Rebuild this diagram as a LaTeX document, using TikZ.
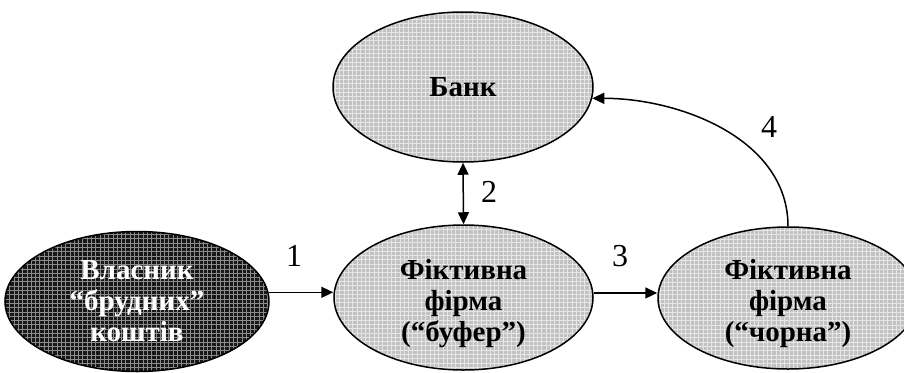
\documentclass[tikz,border=0pt]{standalone}
\usepackage{fontspec}
\setmainfont{Liberation Serif}
\usetikzlibrary{shapes.geometric,arrows.meta}
\definecolor{cellfill}{HTML}{C2C2C2}
\definecolor{cellgrid}{HTML}{E6E6E6}
\definecolor{darkfill}{HTML}{181818}
\definecolor{darkgrid}{HTML}{8C8C8C}
\tikzset{
  ell/.style={ellipse, draw=black, line width=1.5pt, inner sep=0pt, align=center,
    font=\fontsize{29}{31}\selectfont\bfseries},
  gridded/.style={path picture={\draw[#1, line width=0.4pt]
    (path picture bounding box.south west) grid[step=4.3pt] (path picture bounding box.north east);}},
  lightcell/.style={ell, fill=cellfill, gridded=cellgrid},
  darkcell/.style={ell, fill=darkfill, gridded=darkgrid, text=white},
  arr/.style={line width=1.5pt, -{Triangle[length=12pt,width=11pt]}},
  dblarr/.style={line width=1.5pt, {Triangle[length=12pt,width=11pt]}-{Triangle[length=12pt,width=11pt]}},
  lbl/.style={inner sep=0pt, font=\fontsize{32}{36}\selectfont}
}
\begin{document}
\begin{tikzpicture}[x=1pt,y=-1pt]
\clip (0,0) rectangle (904,372);
\fill[white] (0,0) rectangle (904,372);
\node[darkcell, minimum width=264pt, minimum height=140pt] (owner) at (137,301.5)
  {Власник\\“брудних”\\коштів};
\node[lightcell, minimum width=259pt, minimum height=145pt] (buf) at (463.5,297.5)
  {\rule{0pt}{32pt}Фіктивна\\фірма\\(“буфер”)};
\node[lightcell, minimum width=260pt, minimum height=150pt] (bank) at (463,87) {Банк};
\node[lightcell, minimum width=260pt, minimum height=142pt] (black) at (788,298)
  {\rule{0pt}{32pt}Фіктивна\\фірма\\(“чорна”)};
\draw[arr] (owner.4.6) -- (owner.4.6 -| buf.west);
\draw[arr] (buf.2.9) -- (buf.2.9 -| black.west);
\draw[dblarr] (bank.south) -- (buf.north);
\draw[arr] (black.north) .. controls +(0,-87) and +(88,0) .. (bank.-5);
\node[lbl] (n1) at (294,256) {1};
\node[lbl] (n2) at (489,192) {2};
\node[lbl] (n3) at (620,256) {3};
\node[lbl] (n4) at (769,127) {4};
\end{tikzpicture}
\end{document}
